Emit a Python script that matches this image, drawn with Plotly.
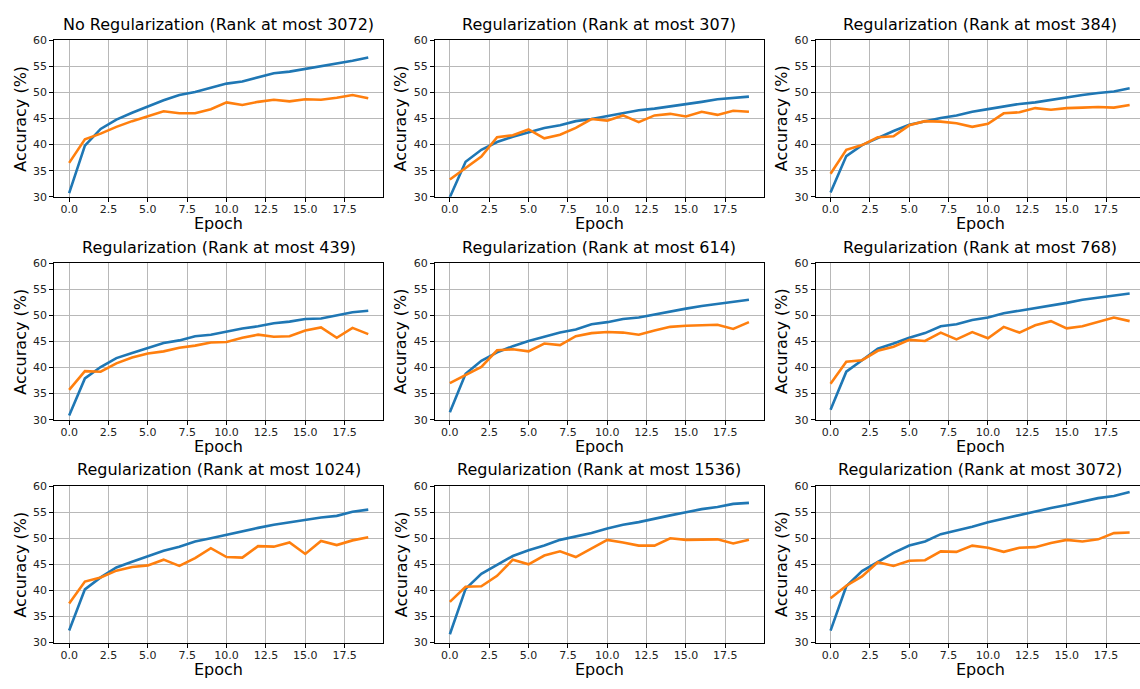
import plotly.graph_objects as go

W, H = 1140, 689

epochs = list(range(20))
x_tick_vals = [0, 2.5, 5, 7.5, 10, 12.5, 15, 17.5]
x_tick_text = ["0.0", "2.5", "5.0", "7.5", "10.0", "12.5", "15.0", "17.5"]
y_tick_vals = [30, 35, 40, 45, 50, 55, 60]

titles = [
    "No Regularization (Rank at most 3072)",
    "Regularization (Rank at most 307)",
    "Regularization (Rank at most 384)",
    "Regularization (Rank at most 439)",
    "Regularization (Rank at most 614)",
    "Regularization (Rank at most 768)",
    "Regularization (Rank at most 1024)",
    "Regularization (Rank at most 1536)",
    "Regularization (Rank at most 3072)",
]

blue_noreg_3072 = [30.7, 39.8, 43.0, 44.8, 46.1, 47.3, 48.5, 49.5, 50.1, 50.9,
                   51.7, 52.1, 52.9, 53.7, 54.0, 54.5, 55.1, 55.6, 56.1, 56.7]
orange_noreg_3072 = [36.5, 41.0, 42.1, 43.4, 44.5, 45.4, 46.4, 46.0, 46.0, 46.8,
                     48.1, 47.6, 48.2, 48.6, 48.3, 48.7, 48.6, 49.0, 49.5, 48.9]

blue_reg_307 = [29.9, 36.7, 39.0, 40.5, 41.5, 42.4, 43.2, 43.7, 44.5, 44.9,
                45.5, 46.1, 46.6, 46.9, 47.3, 47.7, 48.2, 48.7, 49.0, 49.2]
orange_reg_307 = [33.3, 35.5, 37.7, 41.4, 41.8, 42.9, 41.2, 41.9, 43.2, 44.9,
                  44.6, 45.6, 44.3, 45.6, 45.9, 45.4, 46.3, 45.7, 46.5, 46.3]

blue_reg_384 = [30.8, 37.8, 39.9, 41.3, 42.6, 43.8, 44.5, 45.1, 45.6, 46.3,
                46.8, 47.3, 47.8, 48.1, 48.6, 49.1, 49.5, 49.9, 50.2, 50.8]
orange_reg_384 = [34.4, 39.0, 39.9, 41.4, 41.6, 43.7, 44.5, 44.4, 44.1, 43.4,
                  44.0, 46.0, 46.2, 47.0, 46.7, 47.0, 47.1, 47.2, 47.1, 47.6]

blue_reg_439 = [30.8, 37.9, 40.1, 41.8, 42.8, 43.7, 44.7, 45.2, 46.0, 46.3,
                46.9, 47.5, 47.9, 48.5, 48.8, 49.3, 49.4, 50.0, 50.6, 50.9]
orange_reg_439 = [35.7, 39.3, 39.2, 40.8, 41.9, 42.7, 43.1, 43.8, 44.2, 44.8,
                  44.9, 45.7, 46.3, 45.9, 46.0, 47.1, 47.7, 45.7, 47.6, 46.4]

blue_reg_614 = [31.4, 38.8, 41.3, 42.9, 44.1, 45.1, 45.9, 46.7, 47.3, 48.3,
                48.7, 49.3, 49.6, 50.2, 50.8, 51.3, 51.8, 52.2, 52.6, 53.0]
orange_reg_614 = [37.0, 38.5, 40.1, 43.3, 43.5, 43.1, 44.6, 44.3, 46.0, 46.6,
                  46.8, 46.7, 46.3, 47.1, 47.8, 48.0, 48.1, 48.2, 47.4, 48.7]

blue_reg_768 = [31.9, 39.2, 41.4, 43.6, 44.6, 45.7, 46.6, 47.9, 48.3, 49.1,
                49.6, 50.4, 50.9, 51.4, 51.8, 52.4, 53.0, 53.4, 53.8, 54.2]
orange_reg_768 = [36.9, 41.1, 41.4, 43.2, 44.0, 45.3, 45.1, 46.7, 45.4, 46.8,
                  45.6, 47.8, 46.7, 48.1, 48.9, 47.5, 47.9, 48.7, 49.6, 48.9]

blue_reg_1024 = [32.3, 40.2, 42.5, 44.4, 45.5, 46.6, 47.6, 48.4, 49.4, 50.0,
                 50.7, 51.3, 52.0, 52.6, 53.1, 53.5, 54.0, 54.3, 55.1, 55.5]
orange_reg_1024 = [37.5, 41.7, 42.5, 43.8, 44.5, 44.8, 45.9, 44.7, 46.2, 48.1,
                   46.4, 46.3, 48.5, 48.4, 49.2, 47.0, 49.5, 48.7, 49.6, 50.2]

blue_reg_1536 = [31.6, 40.3, 43.2, 44.9, 46.6, 47.7, 48.6, 49.7, 50.4, 51.0,
                 51.9, 52.6, 53.1, 53.8, 54.4, 55.0, 55.6, 56.0, 56.6, 56.8]
orange_reg_1536 = [37.8, 40.7, 40.8, 42.8, 45.9, 45.0, 46.7, 47.5, 46.4, 48.1,
                   49.7, 49.2, 48.6, 48.6, 50.0, 49.7, 49.7, 49.8, 49.0, 49.7]

blue_reg_3072 = [32.3, 40.8, 43.7, 45.5, 47.2, 48.6, 49.4, 50.8, 51.5, 52.2,
                 53.1, 53.8, 54.4, 55.1, 55.8, 56.4, 57.1, 57.7, 58.1, 58.9]
orange_reg_3072 = [38.5, 40.9, 42.7, 45.4, 44.7, 45.7, 45.8, 47.5, 47.4, 48.6,
                   48.2, 47.4, 48.2, 48.3, 49.1, 49.7, 49.4, 49.8, 51.0, 51.1]

blue_series = [blue_noreg_3072, blue_reg_307, blue_reg_384, blue_reg_439, blue_reg_614,
               blue_reg_768, blue_reg_1024, blue_reg_1536, blue_reg_3072]
orange_series = [orange_noreg_3072, orange_reg_307, orange_reg_384, orange_reg_439,
                 orange_reg_614, orange_reg_768, orange_reg_1024, orange_reg_1536,
                 orange_reg_3072]

BLUE = "#1f77b4"
ORANGE = "#ff7f0e"
FONT = "DejaVu Sans"

col_left = [54.2, 434.9, 815.6]
row_top = [35.0, 262.2, 489.4]
PW, PH = 329.0, 159.4
XMIN, XMAX = -0.95, 19.95

fig = go.Figure()
layout = {}
annotations = []

for i in range(9):
    r, c = divmod(i, 3)
    n = i + 1
    xa = "x" if n == 1 else f"x{n}"
    ya = "y" if n == 1 else f"y{n}"
    left = col_left[c]
    right = min(left + PW, W)
    top = row_top[r]
    bottom = top + PH
    xmax = XMIN + (XMAX - XMIN) * (right - left) / PW

    fig.add_trace(go.Scatter(x=epochs, y=blue_series[i], mode="lines",
                             line=dict(color=BLUE, width=2.6), xaxis=xa, yaxis=ya,
                             showlegend=False, hoverinfo="skip"))
    fig.add_trace(go.Scatter(x=epochs, y=orange_series[i], mode="lines",
                             line=dict(color=ORANGE, width=2.6), xaxis=xa, yaxis=ya,
                             showlegend=False, hoverinfo="skip"))

    xkey = "xaxis" if n == 1 else f"xaxis{n}"
    ykey = "yaxis" if n == 1 else f"yaxis{n}"
    layout[xkey] = dict(
        domain=[left / W, right / W], anchor=ya, range=[XMIN, xmax],
        tickvals=x_tick_vals, ticktext=x_tick_text, ticks="outside", ticklen=4,
        tickwidth=1, tickcolor="#000", showline=True, linecolor="#000", linewidth=1,
        mirror=True, showgrid=True, gridcolor="#b8b8b8", gridwidth=1,
        zeroline=False, tickfont=dict(family=FONT, size=11, color="#222"),
        ticklabelstandoff=-2, fixedrange=True,
    )
    layout[ykey] = dict(
        domain=[1 - bottom / H, 1 - top / H], anchor=xa, range=[30, 60],
        tickvals=y_tick_vals, ticks="outside", ticklen=4, tickwidth=1,
        tickcolor="#000", showline=True, linecolor="#000", linewidth=1,
        mirror=(c != 2), showgrid=True, gridcolor="#b8b8b8", gridwidth=1,
        zeroline=False, tickfont=dict(family=FONT, size=11, color="#222"),
        fixedrange=True,
    )

    cx = (left + PW / 2) / W
    annotations.append(dict(text=titles[i], x=cx, y=1 - (top - 16.5) / H,
                            xref="paper", yref="paper", xanchor="center",
                            yanchor="middle", showarrow=False,
                            font=dict(family=FONT, size=16, color="#000")))
    annotations.append(dict(text="Epoch", x=cx, y=1 - (bottom + 27.0) / H,
                            xref="paper", yref="paper", xanchor="center",
                            yanchor="middle", showarrow=False,
                            font=dict(family=FONT, size=16, color="#000")))
    annotations.append(dict(text="Accuracy (%)", x=(left - 34) / W,
                            y=1 - (top + PH / 2) / H, xref="paper", yref="paper",
                            xanchor="center", yanchor="middle", textangle=-90,
                            showarrow=False,
                            font=dict(family=FONT, size=16, color="#000")))

fig.update_layout(
    width=W, height=H, margin=dict(l=0, r=0, t=0, b=0),
    paper_bgcolor="white", plot_bgcolor="white",
    annotations=annotations, **layout,
)

fig.write_html("out.html", config={"displayModeBar": False})
